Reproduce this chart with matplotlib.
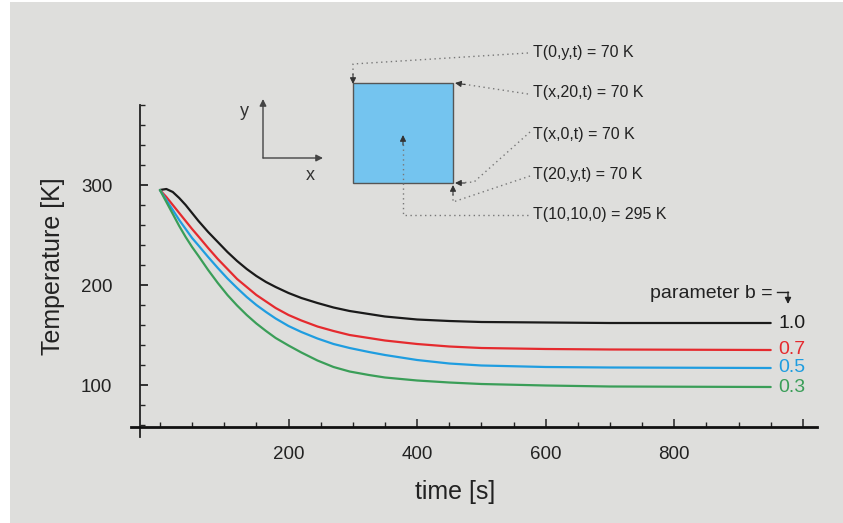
import matplotlib
matplotlib.use("Agg")
import matplotlib.pyplot as plt
from matplotlib.patches import Rectangle
from matplotlib.ticker import MultipleLocator, FixedLocator

plt.rcParams['font.family'] = ['Liberation Sans', 'DejaVu Sans']

# ---------------- data ----------------
time_s = [0, 10, 20, 30, 40, 50, 60, 75, 90, 105, 120, 135, 150, 165, 180, 200,
          220, 245, 270, 295, 325, 350, 400, 450, 500, 600, 700, 950]
T_b10 = [295, 296, 293, 287, 280, 272, 264, 253, 243, 233, 224, 216, 209, 203, 198, 192,
         187, 182, 177.5, 174, 171, 168.5, 165.5, 164, 163, 162.5, 162, 162]
T_b07 = [295, 288, 280, 272, 264, 256, 248.5, 237, 226, 216, 206, 198, 190, 183.5, 177, 170,
         164.5, 158.5, 154, 150, 147, 144.5, 141, 138.5, 137, 136, 135.5, 135]
T_b05 = [295, 285, 275, 265, 256, 247, 239.5, 228, 217, 206.5, 197, 188, 180, 173, 166.5, 159,
         153, 146.5, 141, 137, 133, 130, 125, 121.5, 119.5, 118, 117.5, 117]
T_b03 = [295, 283, 271, 259, 248, 238, 229, 215, 202, 190, 179.5, 170, 161.5, 154, 147, 139.5,
         132.5, 124.5, 118, 113.5, 110, 107.5, 104.5, 102.5, 101, 99.5, 98.5, 98]
b_labels = ['1.0', '0.7', '0.5', '0.3']
colors = ['#1a1a1a', '#e52a2e', '#1f9de0', '#3a9e58']

x_major = [200, 400, 600, 800, 1000]
x_major_labels = ['200', '400', '600', '800', '']
y_major = [100, 200, 300]
y_major_labels = ['100', '200', '300']

bc_labels = ['T(0,y,t) = 70 K', 'T(x,20,t) = 70 K', 'T(x,0,t) = 70 K',
             'T(20,y,t) = 70 K', 'T(10,10,0) = 295 K']

# ---------------- figure ----------------
W, H = 843, 523
BG = '#dededc'
fig = plt.figure(figsize=(W / 100, H / 100), dpi=100, facecolor=BG)
fig.patches.append(Rectangle((0, 0), 10 / W, 1, transform=fig.transFigure,
                             facecolor='white', edgecolor='none', zorder=-10))
fig.patches.append(Rectangle((0, 1 - 2 / H), 1, 2 / H, transform=fig.transFigure,
                             facecolor='white', edgecolor='none', zorder=-10))

ax = fig.add_axes([131 / W, (H - 437) / H, 686 / W, 332 / H])
ax.set_facecolor('none')
ax.set_xlim(-45, 1022)
ax.set_ylim(48, 380)

for s in ['top', 'right']:
    ax.spines[s].set_visible(False)
ax.spines['left'].set_position(('data', -31))
ax.spines['bottom'].set_position(('data', 58))
ax.spines['left'].set_linewidth(1.3)
ax.spines['bottom'].set_linewidth(2.0)
ax.spines['left'].set_color('#222222')
ax.spines['bottom'].set_color('#111111')

ax.xaxis.set_major_locator(FixedLocator(x_major))
ax.set_xticklabels(x_major_labels)
ax.xaxis.set_minor_locator(MultipleLocator(50))
ax.yaxis.set_major_locator(FixedLocator(y_major))
ax.set_yticklabels(y_major_labels)
ax.yaxis.set_minor_locator(MultipleLocator(20))

ax.tick_params(axis='x', which='major', direction='in', length=6, width=1.1,
               labelsize=13.5, pad=14, colors='#222222')
ax.tick_params(axis='x', which='minor', direction='in', length=3.5, width=1.0, colors='#222222')
ax.tick_params(axis='y', which='major', direction='in', length=5.5, width=1.3,
               labelsize=13.5, pad=20, colors='#222222')
ax.tick_params(axis='y', which='minor', direction='in', length=3.5, width=1.0, colors='#222222')

series = [T_b10, T_b07, T_b05, T_b03]
for T, c, lab in zip(series, colors, b_labels):
    ax.plot(time_s, T, color=c, lw=1.6, solid_capstyle='round',
            solid_joinstyle='round', zorder=3)
    ax.text(time_s[-1] + 12, T[-1], lab, color=c, fontsize=14,
            ha='left', va='center')

# axis titles
fig.text(53 / W, 1 - 266 / H, 'Temperature [K]', rotation=90, ha='center',
         va='center', fontsize=18, color='#222222')
fig.text(455 / W, 1 - 492 / H, 'time [s]', ha='center', va='center',
         fontsize=18, color='#222222')

# ---------------- overlay (pixel coordinates) ----------------
ov = fig.add_axes([0, 0, 1, 1])
ov.set_xlim(0, W)
ov.set_ylim(H, 0)
ov.axis('off')
ov.patch.set_visible(False)

# parameter label and bent arrow
ov.text(773, 293, 'parameter b =', ha='right', va='center', fontsize=14, color='#222222')
ov.plot([777, 788], [292, 292], color='#222222', lw=1.0)
ov.annotate('', xy=(788, 304), xytext=(788, 292),
            arrowprops=dict(arrowstyle='-|>', color='#222222', lw=1.0,
                            mutation_scale=9, shrinkA=0, shrinkB=0))

# square
ov.add_patch(Rectangle((353, 83), 100, 100, facecolor='#74c4ef',
                       edgecolor='#555555', lw=1.0, zorder=2))

# coordinate axes glyph
ov.annotate('', xy=(263, 99), xytext=(263, 158),
            arrowprops=dict(arrowstyle='-|>', color='#444444', lw=1.0,
                            mutation_scale=10, shrinkA=0, shrinkB=0))
ov.annotate('', xy=(323, 158), xytext=(263, 158),
            arrowprops=dict(arrowstyle='-|>', color='#444444', lw=1.0,
                            mutation_scale=10, shrinkA=0, shrinkB=0))
ov.text(244, 112, 'y', ha='center', va='center', fontsize=13, color='#333333')
ov.text(310, 175, 'x', ha='center', va='center', fontsize=13, color='#333333')

# boundary condition labels
label_y = [53, 93, 134, 175, 215]
for yy, lab in zip(label_y, bc_labels):
    ov.text(533, yy, lab, ha='left', va='center', fontsize=11.5, color='#222222')

dot = dict(color='#777777', lw=1.0, linestyle=(0, (1, 2.5)))
paths = [
    [(528, 53), (353, 64), (353, 80)],
    [(528, 94), (456, 83)],
    [(530, 132), (474, 182), (457, 183)],
    [(530, 176), (453, 202), (453, 189)],
    [(528, 215), (403, 215), (403, 139)],
]
for p in paths:
    xs, ys = zip(*p)
    ov.plot(xs, ys, **dot)

heads = [((353, 84), (353, 74)), ((455, 83), (465, 84.5)), ((455, 183), (465, 183)),
         ((453, 185), (453, 195)), ((403, 135), (403, 145))]
for tip, tail in heads:
    ov.annotate('', xy=tip, xytext=tail,
                arrowprops=dict(arrowstyle='-|>', color='#333333', lw=0.8,
                                mutation_scale=9, shrinkA=0, shrinkB=0))

fig.savefig('out.png', dpi=100, facecolor=BG)
